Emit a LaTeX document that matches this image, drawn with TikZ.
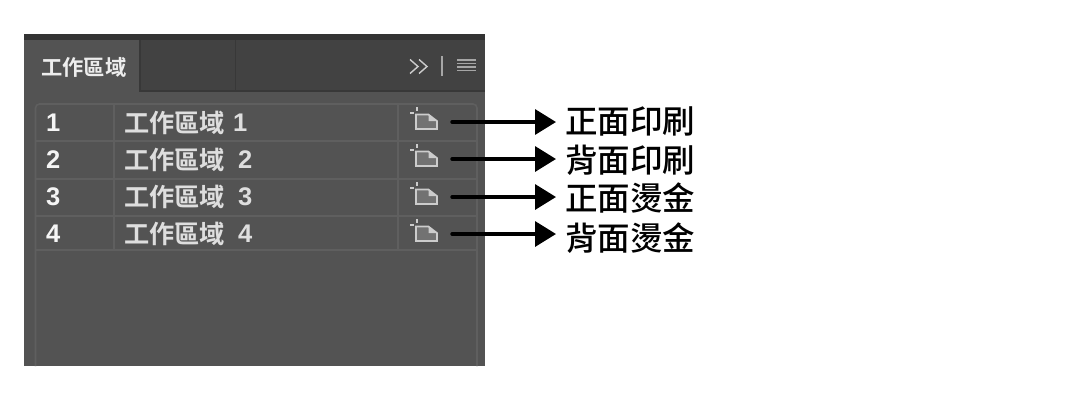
\documentclass[tikz,border=0pt]{standalone}
\usepackage{fontspec}
\setmainfont{Liberation Sans}
\newfontfamily\cjkmedium{Noto Sans CJK TC Medium}
\newfontfamily\cjkheavy{Noto Sans CJK TC Bold}
\usetikzlibrary{arrows.meta}
\definecolor{body}{HTML}{535353}
\definecolor{topbar}{HTML}{333333}
\definecolor{tabdark}{HTML}{424242}
\definecolor{tabline}{HTML}{383838}
\definecolor{grid}{HTML}{5F5F5F}
\definecolor{rowtext}{HTML}{DEDEDE}
\definecolor{icongray}{HTML}{CCCCCC}
\tikzset{
  x=1pt,y=-1pt,
  numlabel/.style={inner sep=0pt,anchor=west,text=white!96!black,font=\fontsize{25.5}{26}\selectfont\bfseries},
  rowlabel/.style={inner sep=0pt,anchor=west,text=rowtext,font=\fontsize{25.2}{26}\selectfont\cjkheavy},
  rowdigit/.style={inner sep=0pt,anchor=west,text=rowtext,font=\fontsize{25.5}{26}\selectfont\bfseries},
  sidelabel/.style={inner sep=0pt,anchor=west,text=black,font=\fontsize{32.5}{33}\selectfont\cjkmedium},
  iconspot/.style={inner sep=0pt,minimum width=26pt,minimum height=20pt},
  flow/.style={line width=3.4pt,line cap=round,-{Triangle[length=21pt,width=25pt]}},
}
\newcommand{\pageicon}[1]{%
  \fill[body!82!white] ([shift={(-8,-3.5)}]#1.center) -- ([shift={(4.5,-3.5)}]#1.center) -- ([shift={(13,3)}]#1.center) -- ([shift={(13,11)}]#1.center) -- ([shift={(-8,11)}]#1.center) -- cycle;
  \draw[icongray,line width=1.6pt] ([shift={(-8,-3.5)}]#1.center) -- ([shift={(4.5,-3.5)}]#1.center) -- ([shift={(13,3)}]#1.center) -- ([shift={(13,11)}]#1.center) -- ([shift={(-8,11)}]#1.center) -- cycle;
  \fill[icongray] ([shift={(4.5,-4)}]#1.center) -- ([shift={(13,3)}]#1.center) -- ([shift={(4.5,3)}]#1.center) -- cycle;
  \draw[icongray,line width=1.3pt] ([shift={(-14,-5)}]#1.center) -- ([shift={(-10,-5)}]#1.center);
  \draw[icongray,line width=1.3pt] ([shift={(-7,-11)}]#1.center) -- ([shift={(-7,-7)}]#1.center);
}
\begin{document}
\begin{tikzpicture}
\useasboundingbox (0,0) rectangle (1065,400);
\fill[white] (0,0) rectangle (1065,400);
% panel
\fill[body] (24,34) rectangle (485,366);
\fill[topbar] (24,34) rectangle (485,40);
\fill[tabdark] (140,40) rectangle (485,91);
\draw[tabline,line width=1.4pt] (140,40) -- (140,91) -- (485,91);
\draw[tabline,line width=1.2pt] (235.5,40) -- (235.5,91);
\node[inner sep=0pt,anchor=west,text=white!93!black,font=\fontsize{21.3}{22}\selectfont\cjkheavy] (tab) at (41,67) {工作區域};
% tab controls
\draw[white!80!black,line width=1.4pt] (410,59.5) -- (418,66.5) -- (410,73.5) (419,59.5) -- (427,66.5) -- (419,73.5);
\draw[white!65!black,line width=1.4pt] (442,56) -- (442,76);
\draw[white!65!black,line width=1.2pt] (457,60) -- (476,60) (457,63.5) -- (476,63.5) (457,67) -- (476,67) (457,70.5) -- (476,70.5);
% table grid
\draw[grid,line width=1.6pt,rounded corners=4pt] (35.5,366) -- (35.5,104) -- (477,104) -- (477,366);
\draw[grid,line width=1.4pt] (35.5,141) -- (477,141) (35.5,179) -- (477,179) (35.5,216) -- (477,216) (35.5,250) -- (477,250);
\draw[grid,line width=1.4pt] (114,104) -- (114,250) (398,104) -- (398,250);
% rows
\node[numlabel] (n1) at (46,123) {1};
\node[numlabel] (n2) at (46,160) {2};
\node[numlabel] (n3) at (46,197) {3};
\node[numlabel] (n4) at (46,234) {4};
\node[rowlabel] (r1) at (124,123) {工作區域};
\node[rowlabel] (r2) at (124,160) {工作區域};
\node[rowlabel] (r3) at (124,197) {工作區域};
\node[rowlabel] (r4) at (124,234) {工作區域};
\node[rowdigit] (d1) at (233,123) {1};
\node[rowdigit] (d2) at (238,160) {2};
\node[rowdigit] (d3) at (238,197) {3};
\node[rowdigit] (d4) at (238,234) {4};
% icons
\node[iconspot] (i1) at (424,118) {};
\node[iconspot] (i2) at (424,155) {};
\node[iconspot] (i3) at (424,193) {};
\node[iconspot] (i4) at (424,230) {};
\pageicon{i1}\pageicon{i2}\pageicon{i3}\pageicon{i4}
% side labels
\node[sidelabel] (s1) at (565,121) {正面印刷};
\node[sidelabel] (s2) at (565,160) {背面印刷};
\node[sidelabel] (s3) at (565,198) {正面燙金};
\node[sidelabel] (s4) at (565,238) {背面燙金};
% arrows
\coordinate (a1) at (452,122);
\coordinate (a2) at (452,159);
\coordinate (a3) at (452,197);
\coordinate (a4) at (452,234);
\draw[flow] (a1) -- ([xshift=-9pt]a1-|s1.west);
\draw[flow] (a2) -- ([xshift=-9pt]a2-|s2.west);
\draw[flow] (a3) -- ([xshift=-9pt]a3-|s3.west);
\draw[flow] (a4) -- ([xshift=-9pt]a4-|s4.west);
\end{tikzpicture}
\end{document}
